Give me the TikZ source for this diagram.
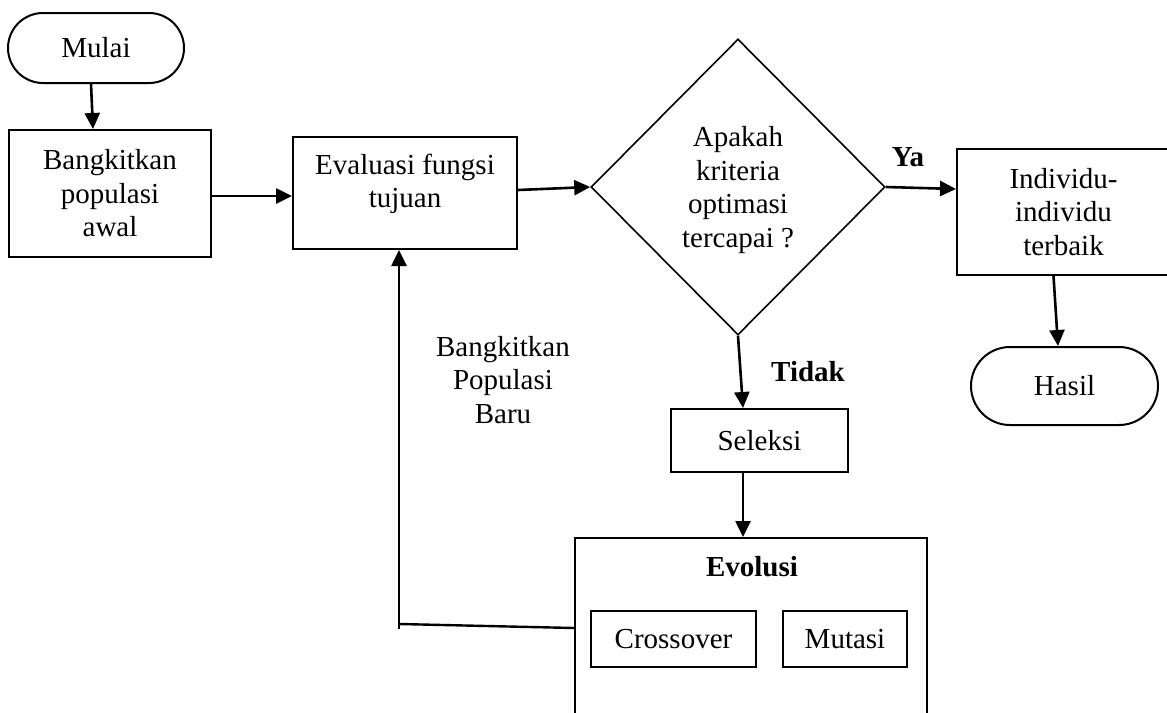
\documentclass[tikz,border=0pt]{standalone}
\usepackage{fontspec}
\setmainfont{Liberation Serif}
\usetikzlibrary{arrows.meta,shapes.geometric,shapes.misc}
\tikzset{
  txt/.style={font=\fontsize{29}{33.5}\selectfont, align=center, inner sep=0pt},
  boxnode/.style={txt, draw, line width=2pt, rectangle},
  termnode/.style={txt, draw, line width=2pt, rounded rectangle},
  decnode/.style={draw, line width=1.6pt, diamond, aspect=1, inner sep=0pt},
  flow/.style={line width=2.6pt, -{Triangle[length=16pt,width=15pt]}},
  plain/.style={line width=2.4pt},
  boldlbl/.style={txt, font=\fontsize{29}{33.5}\selectfont\bfseries}
}
\begin{document}
\begin{tikzpicture}[x=1pt,y=-1pt]
\useasboundingbox (0,0) rectangle (1167,712);
\fill[white] (0,0) rectangle (1167,712);

% nodes
\node[termnode, minimum width=176pt, minimum height=70pt] (mulai) at (96,48) {Mulai};
\node[boxnode, minimum width=202pt, minimum height=127pt] (bang) at (110,193.5) {Bangkitkan\\populasi\\awal};
\node[boxnode, minimum width=224pt, minimum height=112pt] (eval) at (405,193) {};
\node[txt] (evaltxt) at (405,184) {Evaluasi fungsi\\tujuan};
\node[decnode, minimum width=294pt, minimum height=296pt] (dia) at (738,187) {};
\node[txt] (diatxt) at (738,190) {Apakah\\kriteria\\optimasi\\tercapai ?};
\node[boldlbl] (ya) at (908,157) {Ya};
\node[boxnode, minimum width=213pt, minimum height=126pt] (ind) at (1063.5,212) {Individu-\\individu\\terbaik};
\node[termnode, minimum width=187pt, minimum height=78pt] (hasil) at (1064.5,386) {Hasil};
\node[boldlbl] (tidak) at (808,372) {Tidak};
\node[boxnode, minimum width=177pt, minimum height=63pt] (sel) at (759.5,440.5) {Seleksi};
\node[boxnode, minimum width=352pt, minimum height=200pt] (evo) at (751,638) {};
\node[boldlbl] (evotxt) at (752,567) {Evolusi};
\node[boxnode, minimum width=165pt, minimum height=56pt] (cross) at (673.5,639) {Crossover};
\node[boxnode, minimum width=124pt, minimum height=56pt] (mut) at (845,639) {Mutasi};
\node[txt] (baru) at (503,380) {Bangkitkan\\Populasi\\Baru};

% connectors
\draw[flow] ([xshift=-5pt]mulai.south) -- ([xshift=-17pt]bang.north);
\draw[flow] ([yshift=-2.5pt]bang.east) -- ([yshift=-3pt]eval.west);
\draw[flow] ([yshift=3pt]eval.east) -- (dia.west);
\draw[flow] (dia.east) -- ([yshift=23pt]ind.west);
\draw[flow] ([xshift=-10pt]ind.south) -- ([xshift=-6.5pt]hasil.north);
\draw[flow] (dia.south) -- ([xshift=-16.5pt]sel.north);
\draw[flow] ([xshift=-16.5pt]sel.south) -- ([xshift=-8pt]evo.north);
\coordinate (corner) at (399,624);
\coordinate (cornerlow) at (399,629);
\draw[plain] ([yshift=10pt]evo.west) -- (corner);
\draw[flow] (cornerlow) -- ([xshift=-6pt]eval.south);
\end{tikzpicture}
\end{document}
